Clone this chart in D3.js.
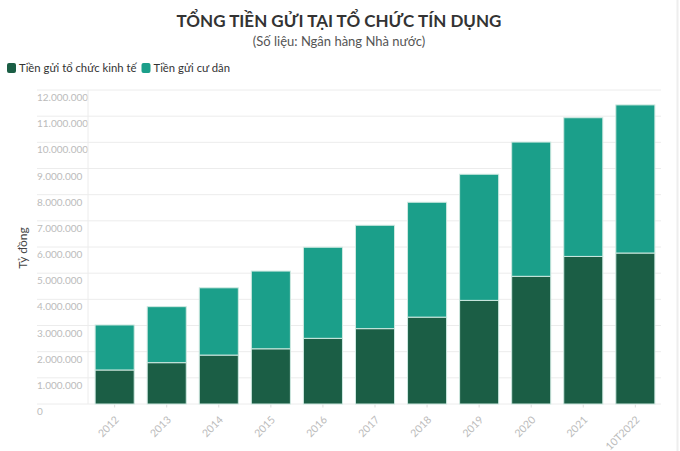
<!DOCTYPE html>
<html><head><meta charset="utf-8">
<script src="https://cdn.jsdelivr.net/npm/d3@7"></script>
<style>
html,body{margin:0;padding:0;background:#fff;}
svg{display:block;font-family:Lato,"Noto Sans",sans-serif;}
</style></head>
<body>
<svg id="chart" width="680" height="451"></svg>
<script>
const categories = ["2012","2013","2014","2015","2016","2017","2018","2019","2020","2021","10T2022"];
const orgDeposits = [1.30,1.58,1.87,2.11,2.51,2.88,3.32,3.96,4.88,5.64,5.77].map(v=>v*1e6);
const residentDeposits = [1.72,2.14,2.57,2.97,3.48,3.95,4.39,4.82,5.13,5.30,5.66].map(v=>v*1e6);
const yTicks = [0,1e6,2e6,3e6,4e6,5e6,6e6,7e6,8e6,9e6,10e6,11e6,12e6];
const seriesNames = ["Tiền gửi tổ chức kinh tế","Tiền gửi cư dân"];
const colors = ["#1b5e45","#1b9f8a"];

const svg = d3.select("#chart");
const fmt = v => v===0 ? "0" : d3.format(",")(v).replace(/,/g,".");

const x = d3.scaleBand().domain(categories).range([88,662]).paddingInner(0.25).paddingOuter(0.137);
const y = d3.scaleLinear().domain([0,12e6]).range([404,90]);

// right border line
svg.append("line").attr("x1",677.5).attr("x2",677.5).attr("y1",0).attr("y2",451).attr("stroke","#eeeeee").attr("stroke-width",2);

// title
svg.append("text").attr("x",339).attr("y",27).attr("text-anchor","middle")
  .attr("font-size",17).attr("font-weight",700).attr("fill","#333")
  .text("TỔNG TIỀN GỬI TẠI TỔ CHỨC TÍN DỤNG");
svg.append("text").attr("x",339).attr("y",46).attr("text-anchor","middle")
  .attr("font-size",13).attr("fill","#555")
  .text("(Số liệu: Ngân hàng Nhà nước)");

// legend
const leg = svg.append("g");
let lx = 7;
seriesNames.forEach((n,i)=>{
  leg.append("rect").attr("x",lx).attr("y",63).attr("width",9).attr("height",10).attr("rx",2).attr("fill",colors[i]);
  const t = leg.append("text").attr("x",lx+12).attr("y",72).attr("font-size",11.3).attr("fill","#333").text(n);
  lx += 12 + t.node().getComputedTextLength() + 5;
});

// grid + y labels
const gy = svg.append("g");
gy.selectAll("line.grid").data(yTicks).join("line")
  .attr("x1",37).attr("x2",661).attr("y1",d=>y(d)).attr("y2",d=>y(d))
  .attr("stroke","#ececec").attr("stroke-width",1);
gy.selectAll("text.yl").data(yTicks).join("text")
  .attr("x",37).attr("y",d=>y(d)+11).attr("font-size",10).attr("fill","#bbb").text(fmt);
svg.append("line").attr("x1",88).attr("x2",88).attr("y1",90).attr("y2",404).attr("stroke","#ececec");

// y title
svg.append("text").attr("transform","translate(27,248) rotate(-90)").attr("text-anchor","middle")
  .attr("font-size",12).attr("fill","#444").text("Tỷ đồng");

// stacked bars
const data = categories.map((c,i)=>({cat:c, org:orgDeposits[i], res:residentDeposits[i]}));
const stack = d3.stack().keys(["org","res"])(data);
svg.append("g").selectAll("g").data(stack).join("g").attr("fill",(d,i)=>colors[i])
  .selectAll("rect").data(d=>d).join("rect")
  .attr("x",d=>x(d.data.cat)).attr("width",x.bandwidth())
  .attr("y",d=>y(d[1])).attr("height",d=>y(d[0])-y(d[1]))
  .attr("stroke","#cfe9e1").attr("stroke-width",1);

// x axis
const xAxis = d3.axisBottom(x).tickSize(3).tickSizeOuter(0);
const gx = svg.append("g").attr("transform","translate(0,404.5)").call(xAxis);
gx.select(".domain").remove();
gx.selectAll(".tick line").attr("stroke","#ddd");
gx.selectAll(".tick text").attr("fill","#bbb").attr("font-size",10.5).attr("font-family","Lato,sans-serif")
  .attr("text-anchor","end").attr("y",0).attr("dy",0).attr("transform","translate(5,16) rotate(-45)");
</script>
</body></html>
